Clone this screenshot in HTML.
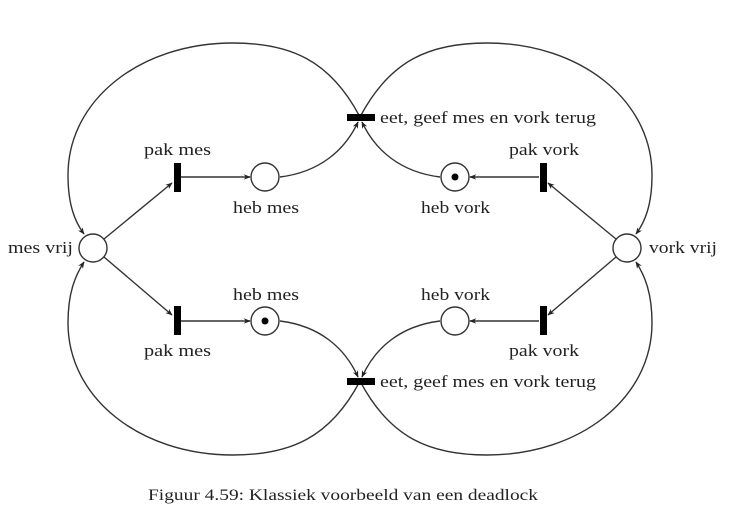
<!DOCTYPE html>
<html><head><meta charset="utf-8"><style>
body{margin:0;background:#fff}
svg{display:block}
text{font-family:"Liberation Serif",serif;font-size:17px;fill:#222}
</style></head><body>
<svg width="744" height="532" viewBox="0 0 744 532">
<defs><marker id="ar" viewBox="0 0 10 10" refX="9" refY="5" markerWidth="7" markerHeight="7" orient="auto-start-reverse" markerUnits="userSpaceOnUse"><path d="M0,1 L10,5 L0,9 L3,5 Z" fill="#222"/></marker></defs>
<g fill="none" stroke="#333" stroke-width="1.4">
<g>
<path d="M360,117 C330,60 290,43 233,43 C140,43 68,100 68,175 C68,205 75,222 84,234" marker-end="url(#ar)"/>
<path d="M360,381 C330,438 290,455 233,455 C140,455 68,398 68,323 C68,293 75,276 84,262" marker-end="url(#ar)"/>
<path d="M104,239 L172,183" marker-end="url(#ar)"/>
<path d="M104,257 L172,315" marker-end="url(#ar)"/>
<path d="M181,177 L250,177" marker-end="url(#ar)"/>
<path d="M181,321 L250,321" marker-end="url(#ar)"/>
<path d="M280,177 C320,172 345,150 358,122" marker-end="url(#ar)"/>
<path d="M280,321 C320,326 345,348 358,377" marker-end="url(#ar)"/>
</g>
<g transform="translate(720,0) scale(-1,1)">
<path d="M360,117 C330,60 290,43 233,43 C140,43 68,100 68,175 C68,205 75,222 84,234" marker-end="url(#ar)"/>
<path d="M360,381 C330,438 290,455 233,455 C140,455 68,398 68,323 C68,293 75,276 84,262" marker-end="url(#ar)"/>
<path d="M104,239 L172,183" marker-end="url(#ar)"/>
<path d="M104,257 L172,315" marker-end="url(#ar)"/>
<path d="M181,177 L250,177" marker-end="url(#ar)"/>
<path d="M181,321 L250,321" marker-end="url(#ar)"/>
<path d="M280,177 C320,172 345,150 358,122" marker-end="url(#ar)"/>
<path d="M280,321 C320,326 345,348 358,377" marker-end="url(#ar)"/>
</g>
</g>
<g fill="#fff" stroke="#333" stroke-width="1.4">
<circle cx="93" cy="248" r="14"/>
<circle cx="627" cy="248" r="14"/>
<circle cx="265" cy="177" r="14"/>
<circle cx="265" cy="321" r="14"/>
<circle cx="455" cy="177" r="14"/>
<circle cx="455" cy="321" r="14"/>
</g>
<circle cx="265" cy="321" r="3.5" fill="#000"/>
<circle cx="455" cy="177" r="3.5" fill="#000"/>
<g fill="#000">
<rect x="347" y="114" width="28" height="7"/>
<rect x="347" y="378" width="28" height="7"/>
<rect x="174" y="163" width="7" height="29"/>
<rect x="174" y="306" width="7" height="29"/>
<rect x="540" y="163" width="7" height="29"/>
<rect x="540" y="306" width="7" height="29"/>
</g>
<text x="380" y="123" textLength="216" lengthAdjust="spacingAndGlyphs">eet, geef mes en vork terug</text>
<text x="380" y="387" textLength="216" lengthAdjust="spacingAndGlyphs">eet, geef mes en vork terug</text>
<text x="144" y="155" textLength="67" lengthAdjust="spacingAndGlyphs">pak mes</text>
<text x="144" y="356" textLength="67" lengthAdjust="spacingAndGlyphs">pak mes</text>
<text x="233" y="213" textLength="66" lengthAdjust="spacingAndGlyphs">heb mes</text>
<text x="233" y="300" textLength="66" lengthAdjust="spacingAndGlyphs">heb mes</text>
<text x="509" y="155" textLength="70" lengthAdjust="spacingAndGlyphs">pak vork</text>
<text x="509" y="356" textLength="70" lengthAdjust="spacingAndGlyphs">pak vork</text>
<text x="421" y="213" textLength="69" lengthAdjust="spacingAndGlyphs">heb vork</text>
<text x="421" y="300" textLength="69" lengthAdjust="spacingAndGlyphs">heb vork</text>
<text x="8" y="253" textLength="65" lengthAdjust="spacingAndGlyphs">mes vrij</text>
<text x="649" y="253" textLength="68" lengthAdjust="spacingAndGlyphs">vork vrij</text>
<text x="148" y="500" textLength="390" lengthAdjust="spacingAndGlyphs" style="font-size:16px">Figuur 4.59: Klassiek voorbeeld van een deadlock</text>
</svg>
</body></html>
